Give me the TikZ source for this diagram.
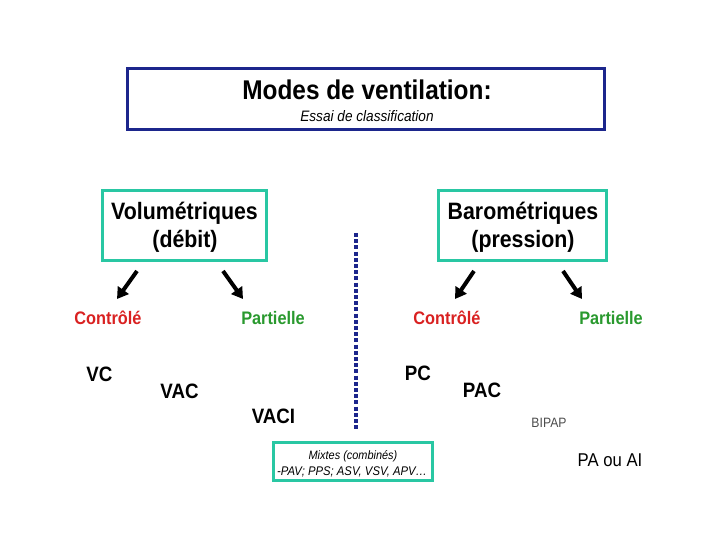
\documentclass[tikz,border=0pt]{standalone}
\usepackage{fontspec}
\setmainfont{Liberation Sans}[FakeStretch=0.9]
\usetikzlibrary{arrows.meta,calc}
\definecolor{TitleClr}{rgb}{0.11,0.15,0.55}
\definecolor{BoxClr}{rgb}{0.16,0.78,0.64}
\definecolor{CtrlClr}{rgb}{0.85,0.13,0.13}
\definecolor{PartClr}{rgb}{0.16,0.6,0.18}
\definecolor{BipapClr}{rgb}{0.3,0.3,0.3}

\tikzset{
  txt/.style={anchor=base,inner sep=0pt},
  titlebox/.style={draw=TitleClr,line width=3bp,minimum width=477bp,minimum height=61bp,inner sep=0pt},
  famillebox/.style={draw=BoxClr,line width=3bp,minimum height=70bp,inner sep=0pt},
  mixtebox/.style={draw=BoxClr,line width=3bp,minimum width=159bp,minimum height=38bp,inner sep=0pt},
  fleche/.style={line width=4bp,-{Triangle[length=11bp,width=13bp]}},
  sepline/.style={TitleClr,line width=4bp,dash pattern=on 4bp off 2.2bp},
  famille/.style={txt,font=\fontsize{23.8}{27}\selectfont\bfseries},
  ctrl/.style={txt,text=CtrlClr,font=\fontsize{18.2}{21}\selectfont\bfseries},
  part/.style={txt,text=PartClr,font=\fontsize{18.2}{21}\selectfont\bfseries},
  mode/.style={txt,font=\fontsize{20.9}{24}\selectfont\bfseries}
}

\begin{document}
\begin{tikzpicture}[x=1bp,y=-1bp]
\useasboundingbox (0,0) rectangle (720,540);

% titre
\node[titlebox] (titre) at (366,99) {};
\node[txt,font=\fontsize{27.2}{30}\selectfont\bfseries] (modes) at (367,100) {Modes de ventilation:};
\node[txt,font=\fontsize{15.2}{18}\selectfont\itshape] (essai) at (367,122) {Essai de classification};

% familles
\node[famillebox,minimum width=164bp] (vol) at (184.5,225.5) {};
\node[famille] (vol1) at (184.5,220) {Volumétriques};
\node[famille] (vol2) at (185,248) {(débit)};

\node[famillebox,minimum width=168bp] (baro) at (522.5,225.5) {};
\node[famille] (baro1) at (523,220) {Barométriques};
\node[famille] (baro2) at (523,248) {(pression)};

\node[ctrl] (volC) at (108,324) {Contrôlé};
\node[part] (volP) at (273,324) {Partielle};
\node[ctrl] (baroC) at (447,324) {Contrôlé};
\node[part] (baroP) at (611,324) {Partielle};

\coordinate (volC0) at (137,271);
\coordinate (volC1) at (117,299);
\coordinate (volP0) at (223,271);
\coordinate (volP1) at (243,299);
\coordinate (baroC0) at (474,271);
\coordinate (baroC1) at (455,299);
\coordinate (baroP0) at (563,271);
\coordinate (baroP1) at (582,299);

\draw[fleche] (volC0) -- (volC1);
\draw[fleche] (volP0) -- (volP1);
\draw[fleche] (baroC0) -- (baroC1);
\draw[fleche] (baroP0) -- (baroP1);

% modes
\node[mode] (vc) at (99.5,381) {VC};
\node[mode] (vac) at (179.5,398) {VAC};
\node[mode] (vaci) at (273.5,423) {VACI};

\node[mode] (pc) at (418,380) {PC};
\node[mode] (pac) at (482,397) {PAC};
\node[txt,text=BipapClr,font=\fontsize{13.6}{16}\selectfont] (bipap) at (549,427) {BIPAP};
\node[txt,font=\fontsize{18.6}{21}\selectfont] (paai) at (610,466) {PA ou AI};

% separation
\coordinate (sepA) at (356,233);
\coordinate (sepB) at (356,430);
\draw[sepline] (sepA) -- (sepB);

% mixtes
\node[mixtebox] (mixte) at (353,461.5) {};
\node[txt,font=\fontsize{12.2}{14}\selectfont\itshape] (mixte1) at (353,459) {Mixtes (combinés)};
\node[txt,font=\fontsize{12.6}{14}\selectfont\itshape] (mixte2) at (352,475) {-PAV; PPS; ASV, VSV, APV\dots};

\end{tikzpicture}
\end{document}
